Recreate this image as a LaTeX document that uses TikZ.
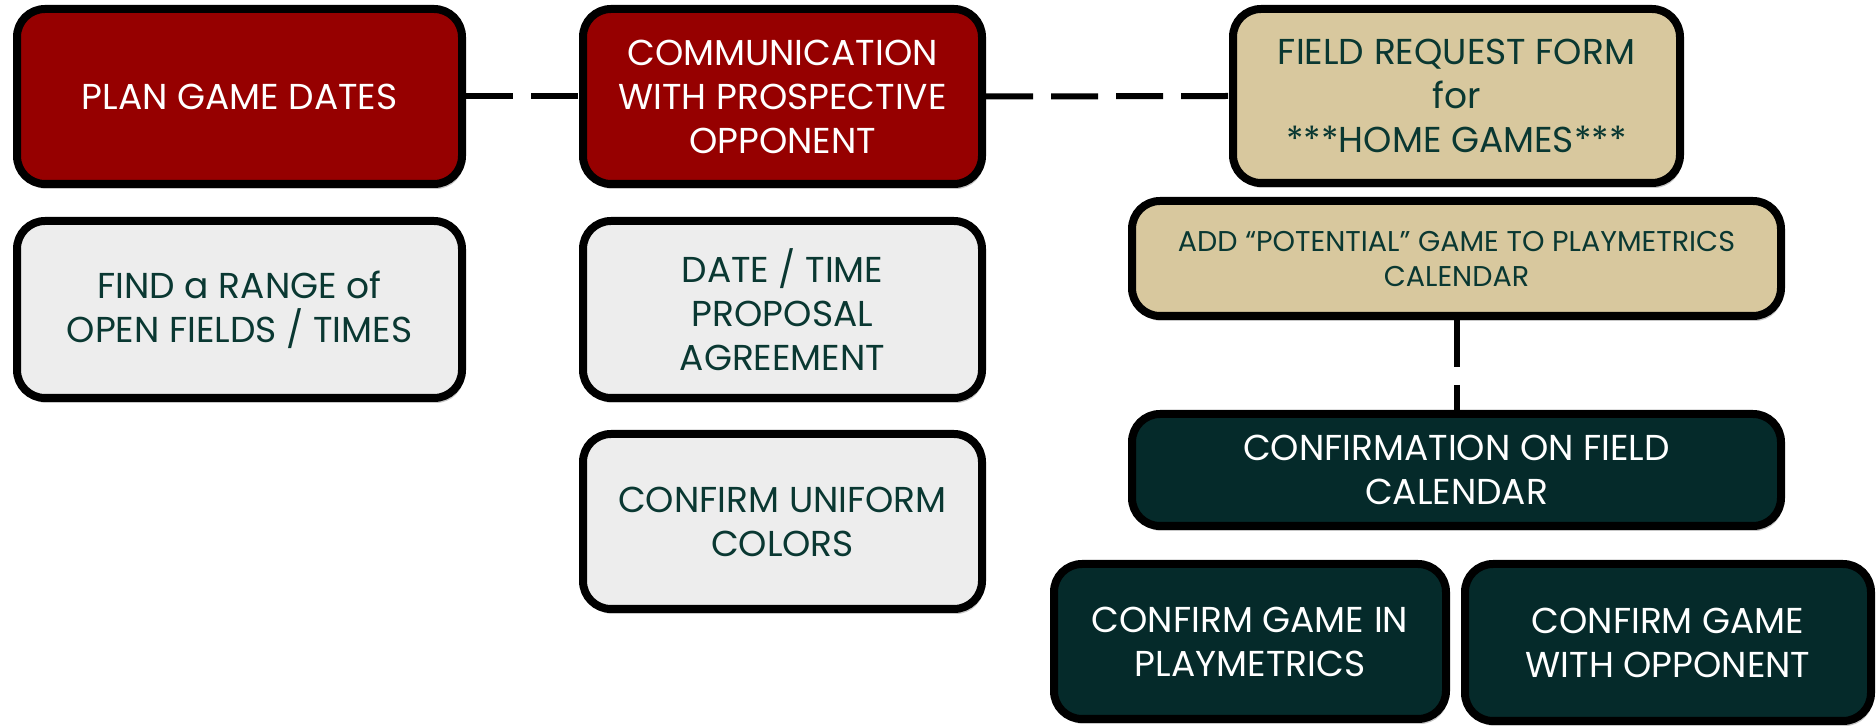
\documentclass[tikz,border=0pt]{standalone}
\usepackage{fontspec}
\setmainfont{Poppins}
\usetikzlibrary{shadows}
\definecolor{boxred}{RGB}{150,0,0}
\definecolor{boxgrey}{RGB}{237,237,237}
\definecolor{boxtan}{RGB}{216,200,158}
\definecolor{boxteal}{RGB}{5,42,42}
\definecolor{boxtext}{RGB}{10,56,50}
\tikzset{
  box/.style={draw=black, line width=4pt, rounded corners=14pt, align=center,
    inner sep=0pt, font=\fontsize{18}{22}\selectfont,
    drop shadow={shadow xshift=1pt, shadow yshift=-2.5pt, fill=black, opacity=.22}},
  redbox/.style={box, fill=boxred, text=white},
  greybox/.style={box, fill=boxgrey, text=boxtext},
  tanbox/.style={box, fill=boxtan, text=boxtext},
  tealbox/.style={box, fill=boxteal, text=white},
  link/.style={line width=3pt, dash pattern=on 23.5pt off 9pt}
}

\begin{document}
\begin{tikzpicture}[x=0.5pt,y=-0.5pt]
\useasboundingbox (0,0) rectangle (1876,726);

% first column
\node[redbox, minimum width=222.5pt, minimum height=87.5pt] (plan) at (239.5,96.5)
  {PLAN GAME DATES};
\node[greybox, minimum width=222.5pt, minimum height=88.5pt] (find) at (239.5,309.5)
  {FIND a RANGE of\\OPEN FIELDS / TIMES};

% second column
\node[redbox, minimum width=199.5pt, minimum height=87.5pt] (comm) at (782.5,96.5)
  {COMMUNICATION\\WITH PROSPECTIVE\\OPPONENT};
\node[greybox, minimum width=199.5pt, minimum height=88.5pt] (date) at (782.5,309.5)
  {DATE / TIME\\PROPOSAL\\AGREEMENT};
\node[greybox, minimum width=199.5pt, minimum height=87.5pt] (unif) at (782.5,521.5)
  {CONFIRM UNIFORM\\COLORS};

% third column
\node[tanbox, minimum width=223.5pt, minimum height=87pt] (field) at (1456.5,96)
  {FIELD REQUEST FORM\\for\\***HOME GAMES***};
\node[tanbox, minimum width=324.5pt, minimum height=57.5pt,
  font=\fontsize{14.3}{17.5}\selectfont] (add) at (1456.5,258.5)
  {ADD “POTENTIAL” GAME TO PLAYMETRICS\\CALENDAR};
\node[tealbox, minimum width=324.5pt, minimum height=56pt] (cal) at (1456.5,470)
  {CONFIRMATION ON FIELD\\CALENDAR};
\node[tealbox, minimum width=196pt, minimum height=77.5pt] (inpm) at (1250,641.5)
  {CONFIRM GAME IN\\PLAYMETRICS};
\node[tealbox, minimum width=203pt, minimum height=78.5pt] (opp) at (1668,642.5)
  {CONFIRM GAME\\WITH OPPONENT};

\draw[link] (plan.east) -- (comm.west);
\draw[link] (comm.east) -- (field.west);
\draw[link] (add.south) -- (cal.north);
\end{tikzpicture}
\end{document}
